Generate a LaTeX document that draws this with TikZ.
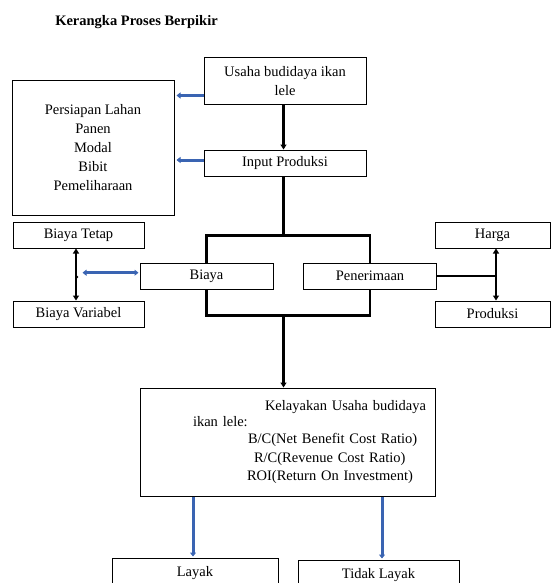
\documentclass[tikz,border=0pt]{standalone}
\usepackage{fontspec}
\setmainfont{Liberation Serif}
\usetikzlibrary{arrows.meta}
\definecolor{arrblue}{RGB}{58,100,178}
\begin{document}
\begin{tikzpicture}[x=1pt, y=-1pt,
        font=\fontsize{14.5}{19}\selectfont,
        boxnode/.style={draw,rectangle,line width=1pt,fill=white,inner sep=0pt,align=center},
        blackarrow/.style={line width=2.2pt,-{Triangle[length=5pt,width=6pt]}},
        twoarrow/.style={line width=2.2pt,{Triangle[length=5pt,width=6pt]}-{Triangle[length=5pt,width=6pt]}},
        bluearrow/.style={draw=arrblue,line width=3pt,-{Triangle[length=4pt,width=6pt]}},
        bluetwo/.style={draw=arrblue,line width=3pt,{Triangle[length=4pt,width=6pt]}-{Triangle[length=4pt,width=6pt]}},
        thickline/.style={line width=2.8pt}
        ]
        %boxnode/.style={draw,rectangle,rounded corners,inner sep=2pt,align=center}
      \useasboundingbox (0,0) rectangle (553,583);
      \node (title) at (136.5,22) {\bfseries Kerangka Proses Berpikir};
      \node[boxnode,minimum width=162pt,minimum height=47pt] (usaha) at (285,81.5) {Usaha budidaya ikan\\lele};
      \node[boxnode,minimum width=162pt,minimum height=134pt] (persiapan) at (93,148)
        {Persiapan Lahan\\Panen\\Modal\\Bibit\\Pemeliharaan};
      \node[boxnode,minimum width=162pt,minimum height=26pt] (input) at (285,163) {Input Produksi};
      \node[boxnode,minimum width=133pt,minimum height=26pt] (biaya) at (206.5,276) {Biaya};
      \node[boxnode,minimum width=133pt,minimum height=26pt] (penerimaan) at (370,276) {Penerimaan};
      \node[boxnode,minimum width=131pt,minimum height=26pt] (tetap) at (78.5,235) {Biaya Tetap};
      \node[boxnode,minimum width=131pt,minimum height=26pt] (variabel) at (78.5,314) {Biaya Variabel};
      \node[boxnode,minimum width=115pt,minimum height=26pt] (harga) at (492.5,235) {Harga};
      \node[boxnode,minimum width=115pt,minimum height=26pt] (produksi) at (492.5,314) {Produksi};
      \node[boxnode,minimum width=295pt,minimum height=108pt,text width=295pt,align=left] (kelayakan) at (287.5,442)
        {\hspace*{125pt}Kelayakan Usaha budidaya\\[-3pt]
         \hspace*{53pt}ikan lele:\\[-2pt]
         \hspace*{108pt}B/C(Net Benefit Cost Ratio)\\
         \hspace*{114pt}R/C(Revenue Cost Ratio)\\[-1pt]
         \hspace*{107pt}ROI(Return On Investment)};
      \node[boxnode,minimum width=166pt,minimum height=30pt] (layak) at (195,573) {Layak};
      \node[boxnode,minimum width=161pt,minimum height=30pt] (tidak) at (378.5,575) {Tidak Layak};

      \draw[blackarrow] ([xshift=-1.5pt]usaha.south) -- ([xshift=-1.5pt]input.north);
      \draw[bluearrow,shorten >=2pt] ([yshift=10pt]usaha.south west) -- ([yshift=10pt]usaha.south west -| persiapan.east);
      \draw[bluearrow,shorten >=2pt] ([yshift=3pt]input.west) -- ([yshift=3pt]input.west -| persiapan.east);

      \draw[thickline] (biaya.north) -- ++(0,-27) coordinate (btl) -| (penerimaan.north);
      \draw[thickline] (biaya.south) -- ++(0,26) coordinate (bbl) -| (penerimaan.south);
      \draw[thickline] ([xshift=-1.5pt]input.south) -- ([xshift=-1.5pt]input.south |- btl);
      \draw[blackarrow] ([xshift=-1.5pt]input.south |- bbl) -- ([xshift=-1.5pt]input.south |- kelayakan.north);

      \draw[twoarrow] ([xshift=-2.5pt]tetap.south) -- ([xshift=-2.5pt]variabel.north);
      \coordinate (bdot) at ([xshift=-2.5pt]tetap.south |- biaya.west);
      \fill ([xshift=1pt,yshift=-1pt]bdot) circle (1.4pt);
      \draw[bluetwo,shorten >=6.5pt,shorten <=1pt] ([yshift=3.3pt]biaya.west) -- ([yshift=3.3pt]biaya.west -| bdot);

      \draw[thickline] (penerimaan.east) -- ([xshift=3.5pt]harga.south |- penerimaan.east);
      \draw[twoarrow] ([xshift=3.5pt]harga.south) -- ([xshift=3.5pt]produksi.north);

      \draw[bluearrow,shorten >=1pt] ([xshift=-2pt]layak.north |- kelayakan.south) -- ([xshift=-2pt]layak.north);
      \draw[bluearrow,shorten >=1pt] ([xshift=3.5pt]tidak.north |- kelayakan.south) -- ([xshift=3.5pt]tidak.north);
\end{tikzpicture}
\end{document}
